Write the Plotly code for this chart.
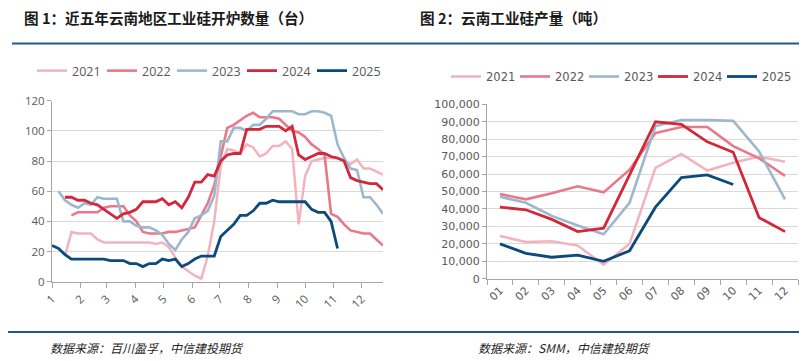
import plotly.graph_objects as go
import pandas as pd

# page is rendered with the browser's default 8px body margin
OX, OY = 8, 8
FW, FH = 807 - OX, 361 - OY


def fx(px):
    return (px - OX) / FW


def fy(py):
    return 1 - (py - OY) / FH


years = ["2021", "2022", "2023", "2024", "2025"]
colors = ["#F2B3BE", "#E8798A", "#9DB8CC", "#D2283C", "#0B4A7A"]

# ---- Figure 1: weekly number of running furnaces in Yunnan (units) ----
month_ticks = [str(m) for m in range(1, 13)]
furnace_2021 = [None, None, 17, 33, 32, 32, 32, 28, 26, 26,
                26, 26, 26, 26, 26, 26, 25, 26, 23, 16,
                10, 7, 4, 2, 17, 40, 77, 88, 87, 85,
                91, 89, 83, 85, 90, 90, 93, 88, 38, 70,
                80, 81, 82, 82, 82, 80, 78, 81, 75, 75,
                73, 71]
furnace_2022 = [None, None, None, 44, 46, 46, 46, 46, 49, 50,
                50, 50, 44, 40, 33, 32, 32, 32, 33, 33,
                34, 35, 36, 44, 52, 64, 82, 102, 104, 107,
                110, 112, 109, 109, 109, 108, 104, 100, 99, 96,
                91, 88, 84, 45, 43, 38, 34, 33, 32, 32,
                28, 24]
furnace_2023 = [None, 60, 54, 51, 49, 52, 51, 56, 55, 55,
                55, 40, 40, 37, 36, 36, 34, 31, 25, 21,
                28, 33, 42, 44, 47, 57, 93, 93, 102, 102,
                100, 104, 104, 108, 113, 113, 113, 113, 111, 111,
                113, 113, 112, 110, 91, 82, 75, 74, 56, 56,
                51, 45]
furnace_2024 = [None, None, 56, 56, 54, 54, 52, 51, 48, 45,
                42, 45, 46, 48, 53, 53, 53, 55, 51, 53,
                49, 56, 66, 66, 71, 70, 80, 84, 85, 85,
                101, 101, 101, 103, 103, 103, 100, 103, 84, 81,
                83, 85, 85, 83, 82, 80, 69, 67, 66, 65,
                65, 61]
furnace_2025 = [24, 22, 18, 15, 15, 15, 15, 15, 15, 14,
                14, 14, 12, 12, 10, 12, 12, 15, 14, 15,
                10, 12, 15, 17, 17, 17, 30, 34, 38, 44,
                44, 47, 52, 52, 54, 53, 53, 53, 53, 53,
                48, 46, 46, 40, 22]
furnace = [furnace_2021, furnace_2022, furnace_2023, furnace_2024, furnace_2025]

# ---- Figure 2: Yunnan industrial silicon output (tonnes) ----
month_cats = ["01", "02", "03", "04", "05", "06", "07", "08", "09", "10", "11", "12"]
output_2021 = [24500, 21000, 21500, 19000, 8000, 20000, 63500, 71500, 62000, 66500, 70000, 67000]
output_2022 = [48500, 45500, 49000, 53000, 49500, 62500, 83500, 87000, 87000, 76000, 69000, 59000]
output_2023 = [47000, 43500, 36000, 30500, 25500, 43500, 87500, 91000, 91000, 90500, 73000, 45500]
output_2024 = [41000, 39500, 34000, 27000, 29000, 59500, 90000, 88500, 78500, 72500, 35000, 27000]
output_2025 = [20000, 14500, 12300, 13500, 10000, 16000, 41000, 58000, 59500, 54000]
output = [output_2021, output_2022, output_2023, output_2024, output_2025]

week_dates = pd.date_range("2023-01-01", periods=52, freq="7D")
month_starts = pd.date_range("2023-01-01", periods=12, freq="MS")

widths = [2.5, 2.6, 2.6, 2.8, 2.8]

fig = go.Figure()
for yr, col, lw, vals in zip(years, colors, widths, furnace):
    fig.add_trace(go.Scatter(
        x=week_dates[:len(vals)], y=vals, mode="lines", name=yr,
        line=dict(color=col, width=lw), xaxis="x", yaxis="y",
        legend="legend", connectgaps=False, hoverinfo="skip"))
for yr, col, lw, vals in zip(years, colors, widths, output):
    fig.add_trace(go.Scatter(
        x=month_cats[:len(vals)], y=vals, mode="lines", name=yr,
        line=dict(color=col, width=lw), xaxis="x2", yaxis="y2",
        legend="legend2", hoverinfo="skip"))

grid = "#D9D9D9"
axis_line = "#A6A6A6"
tick_font_l = dict(family="Open Sans", size=11.5, color="#595959")
tick_font_r = dict(family="DejaVu Sans", size=11, color="#595959")

fig.update_layout(
    width=FW, height=FH, margin=dict(l=0, r=0, t=0, b=0, autoexpand=False),
    paper_bgcolor="white", plot_bgcolor="white",
    xaxis=dict(domain=[fx(52), fx(383)], type="date", automargin=False,
               range=["2023-01-01", "2023-12-24"],
               tickvals=month_starts, ticktext=month_ticks, tickangle=-45,
               showgrid=False, showline=True, linecolor=axis_line, linewidth=1,
               ticks="outside", ticklen=5, tickcolor=axis_line,
               tickfont=tick_font_l, anchor="y", zeroline=False),
    yaxis=dict(domain=[fy(281.7), fy(100.7)], range=[0, 120], dtick=20,
               automargin=False,
               showgrid=True, gridcolor=grid, gridwidth=1,
               showline=True, linecolor=axis_line, linewidth=1,
               ticks="outside", ticklen=4, tickcolor=axis_line,
               tickfont=tick_font_l, zeroline=False, anchor="x"),
    xaxis2=dict(domain=[fx(487), fx(798)], type="category", automargin=False,
                range=[-0.5, 11.5], tickangle=-45, tickson="boundaries",
                showgrid=False, showline=True, linecolor=axis_line, linewidth=1,
                ticks="outside", ticklen=5, tickcolor=axis_line,
                tickfont=tick_font_r, anchor="y2"),
    yaxis2=dict(domain=[fy(278.7), fy(104.3)], range=[0, 100000], dtick=10000,
                automargin=False,
                tickformat=",", showgrid=True, gridcolor=grid, gridwidth=1,
                showline=True, linecolor=axis_line, linewidth=1,
                ticks="outside", ticklen=4, tickcolor=axis_line,
                tickfont=tick_font_r, zeroline=False, anchor="x2"),
    legend=dict(orientation="h", x=fx(32), y=fy(56), xanchor="left", yanchor="top",
                entrywidth=25, entrywidthmode="pixels", itemwidth=30,
                font=dict(family="Open Sans", size=12.5, color="#595959"),
                bgcolor="rgba(0,0,0,0)", tracegroupgap=0),
    legend2=dict(orientation="h", x=fx(446), y=fy(62), xanchor="left", yanchor="top",
                 entrywidth=24, entrywidthmode="pixels", itemwidth=30,
                 font=dict(family="DejaVu Sans", size=11.5, color="#595959"),
                 bgcolor="rgba(0,0,0,0)", tracegroupgap=0),
    showlegend=True,
)

title_font = dict(family="Noto Sans CJK SC", size=14.6, color="#1A1A1A", weight=700)
foot_font = dict(family="Noto Sans CJK SC", size=12, color="#262626", style="italic")
fig.add_annotation(text="图 1：近五年云南地区工业硅开炉数量（台）", x=fx(22), y=fy(17),
                   xref="paper", yref="paper", xanchor="left", yanchor="middle",
                   showarrow=False, font=title_font)
fig.add_annotation(text="图 2：云南工业硅产量（吨）", x=fx(418), y=fy(17),
                   xref="paper", yref="paper", xanchor="left", yanchor="middle",
                   showarrow=False, font=title_font)
fig.add_annotation(text="数据来源：百川盈孚，中信建投期货", x=fx(48), y=fy(347),
                   xref="paper", yref="paper", xanchor="left", yanchor="middle",
                   showarrow=False, font=foot_font)
fig.add_annotation(text="数据来源：SMM，中信建投期货", x=fx(476), y=fy(347),
                   xref="paper", yref="paper", xanchor="left", yanchor="middle",
                   showarrow=False, font=foot_font)

rule = "#1F5A8C"
fig.add_shape(type="line", xref="paper", yref="paper", x0=fx(12), x1=1, y0=fy(43.5), y1=fy(43.5),
              line=dict(color=rule, width=2.2))
fig.add_shape(type="line", xref="paper", yref="paper", x0=0, x1=1, y0=fy(332), y1=fy(332),
              line=dict(color=rule, width=2.2))

fig.write_html("out.html")
